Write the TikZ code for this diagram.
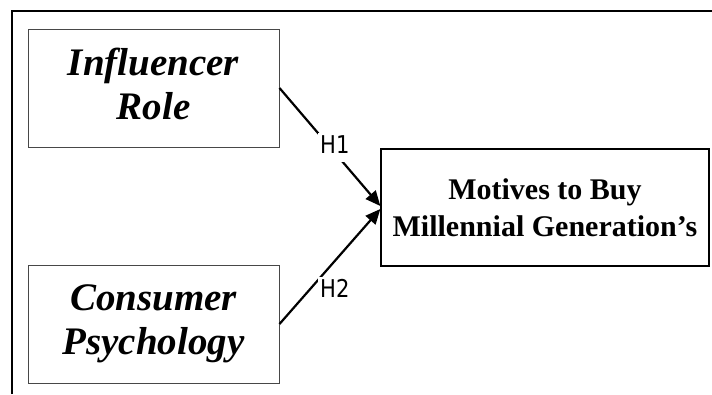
\documentclass[tikz,border=0pt]{standalone}
\usepackage{fontspec}
\setmainfont{Liberation Serif}
\newfontfamily\labfont[FakeStretch=0.86]{DejaVu Sans}
\usetikzlibrary{arrows.meta}
\begin{document}
\begin{tikzpicture}[x=1pt,y=-1pt,
 inbox/.style={draw=black!72, line width=1pt, minimum width=251pt, minimum height=118pt, align=center, font=\fontsize{39}{44}\selectfont\bfseries\itshape, inner sep=0pt},
 outbox/.style={draw=black, line width=1.3pt, minimum width=328pt, minimum height=117pt, align=center, font=\fontsize{30}{37}\selectfont\bfseries, inner sep=0pt},
 link/.style={line width=2.2pt, -{Triangle[length=15pt,width=13pt]}},
 hlab/.style={fill=white, inner xsep=2pt, inner ysep=2pt, text height=18pt, text depth=7pt, anchor=base west, font=\labfont\fontsize{24.5}{24.5}\selectfont}]
\useasboundingbox (0,0) rectangle (712,394);
\draw[line width=2.2pt] (12,394) -- (12,11) -- (712,11);
\node[inbox] (inf) at (153.5,88) {Influencer\\Role\vphantom{g}};
\node[inbox] (con) at (153.5,324) {Consumer\\Psychology};
\node[outbox] (mot) at (545,207.5) {Motives to Buy\\Millennial Generation’s};
\draw[link] (inf.east) -- ([yshift=1.5pt]mot.west);
\draw[link] (con.east) -- ([yshift=-1.5pt]mot.west);
\node[hlab] (h1) at (318,153) {H1};
\node[hlab] (h2) at (318,297) {H2};
\end{tikzpicture}
\end{document}
